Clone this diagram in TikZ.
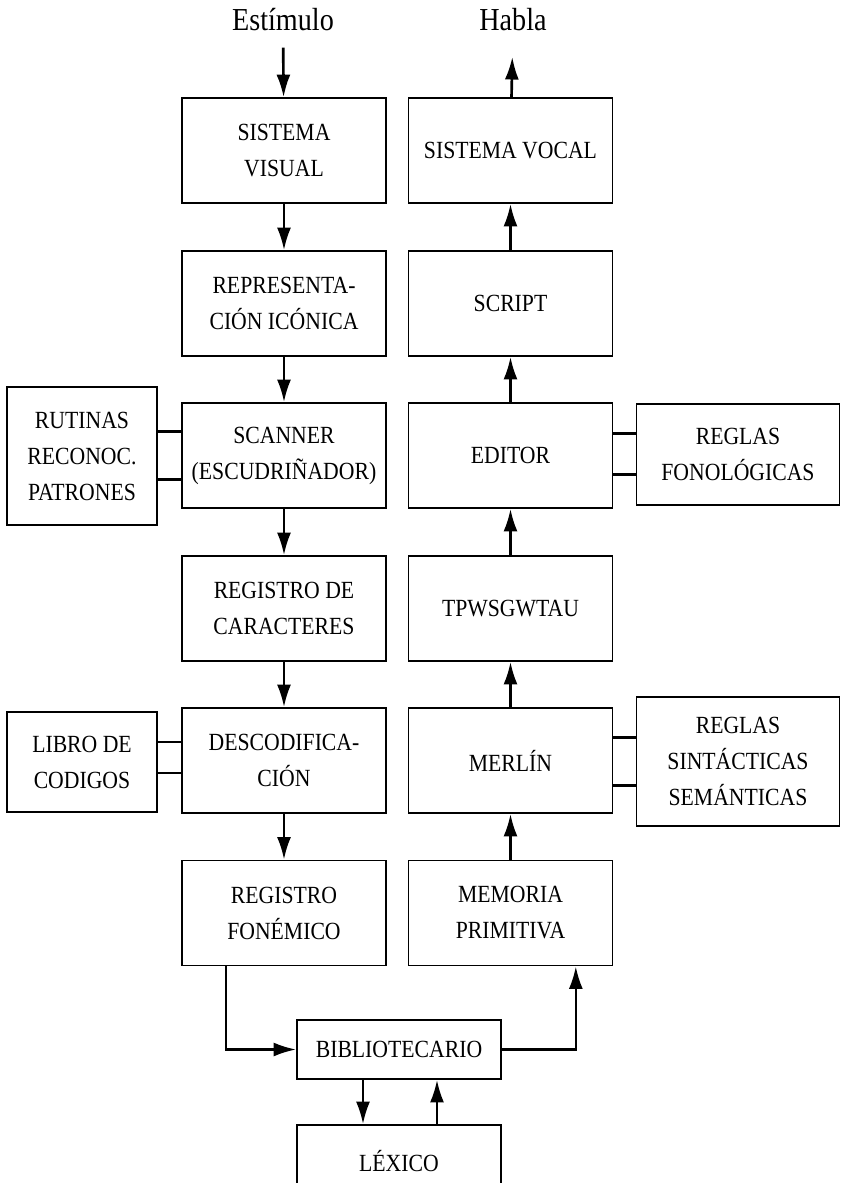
\documentclass[tikz,border=0pt]{standalone}
\usepackage{fontspec}
\setmainfont{Liberation Serif}[FakeStretch=0.88]
\usetikzlibrary{arrows.meta}

\begin{document}
\begin{tikzpicture}
[x=0.75pt,y=-0.75pt,
box/.style={draw,line width=1.1pt,minimum width=153pt,minimum height=78.75pt,inner sep=0pt,align=center,font=\fontsize{18.5}{27}\selectfont},
arr/.style={line width=2pt,-{Latex[length=17pt,width=10.5pt]}},
link/.style={line width=2.2pt},
lbl/.style={inner sep=0pt,font=\fontsize{24}{28}\selectfont}]
\useasboundingbox (0,0) rectangle (843,1183);
\node[lbl] (estim) at (283,20) {Estímulo};
\node[lbl] (habla) at (513,20) {Habla};
\node[box] (vis) at (284,150.5) {SISTEMA\\VISUAL};
\node[box] (icon) at (284,303.5) {REPRESENTA-\\CIÓN ICÓNICA};
\node[box] (scan) at (284,455.5) {SCANNER\\(ESCUDRIÑADOR)};
\node[box] (car) at (284,608.5) {REGISTRO DE\\CARACTERES};
\node[box] (desc) at (284,760.5) {DESCODIFICA-\\CIÓN};
\node[box] (fon) at (284,913) {REGISTRO\\FONÉMICO};
\node[box] (vocal) at (510.5,150.5) {SISTEMA VOCAL};
\node[box] (script) at (510.5,303.5) {SCRIPT};
\node[box] (edit) at (510.5,455.5) {EDITOR};
\node[box] (tpw) at (510.5,608.5) {TPWSGWTAU};
\node[box] (merlin) at (510.5,760.5) {MERLÍN};
\node[box] (mem) at (510.5,913) {MEMORIA\\PRIMITIVA};
\node[box,minimum width=112.5pt,minimum height=103.5pt] (rut) at (82,456) {RUTINAS\\RECONOC.\\PATRONES};
\node[box,minimum width=112.5pt,minimum height=75pt] (libro) at (82,762) {LIBRO DE\\CODIGOS};
\node[box,minimum width=152pt,minimum height=75.75pt] (fonol) at (738,454.5) {REGLAS\\FONOLÓGICAS};
\node[box,minimum width=152pt,minimum height=96.75pt] (sint) at (738,761.5) {REGLAS\\SINTÁCTICAS\\SEMÁNTICAS};
\node[box,minimum height=44.25pt] (bib) at (399,1049.5) {BIBLIOTECARIO};
\node[box,minimum height=54pt] (lex) at (399,1161) {LÉXICO};
% flujo de lectura
\draw[arr,shorten <=12pt] (estim) -- (vis);
\foreach \from/\to in {vis/icon,icon/scan,scan/car,car/desc,desc/fon}
\draw[arr] (\from) -- (\to);
% flujo de habla
\foreach \from/\to in {mem/merlin,merlin/tpw,tpw/edit,edit/script,script/vocal}
\draw[arr] (\from) -- (\to);
\draw[arr,shorten >=19pt] (vocal) -- (habla);
% reglas y rutinas
\foreach \y in {18,-18}
\draw[link] ([yshift=\y pt]scan.west) -- ([yshift=\y pt]scan.west -| rut.east);
\foreach \y in {15,-8.25}
\draw[link] ([yshift=\y pt]libro.east) -- ([yshift=\y pt]libro.east -| desc.west);
\foreach \y in {16.5,-14.5}
\draw[link] ([yshift=\y pt]edit.east) -- ([yshift=\y pt]edit.east -| fonol.west);
\foreach \y in {17,-19}
\draw[link] ([yshift=\y pt]merlin.east) -- ([yshift=\y pt]merlin.east -| sint.west);
% biblioteca
\draw[arr] ([xshift=-43.5pt]fon.south) |- (bib.west);
\draw[arr] (bib.east) -| ([xshift=49pt]mem.south);
\draw[arr] ([xshift=-27pt]bib.south) -- ([xshift=-27pt]lex.north);
\draw[arr] ([xshift=28.5pt]lex.north) -- ([xshift=28.5pt]bib.south);
\end{tikzpicture}
\end{document}
